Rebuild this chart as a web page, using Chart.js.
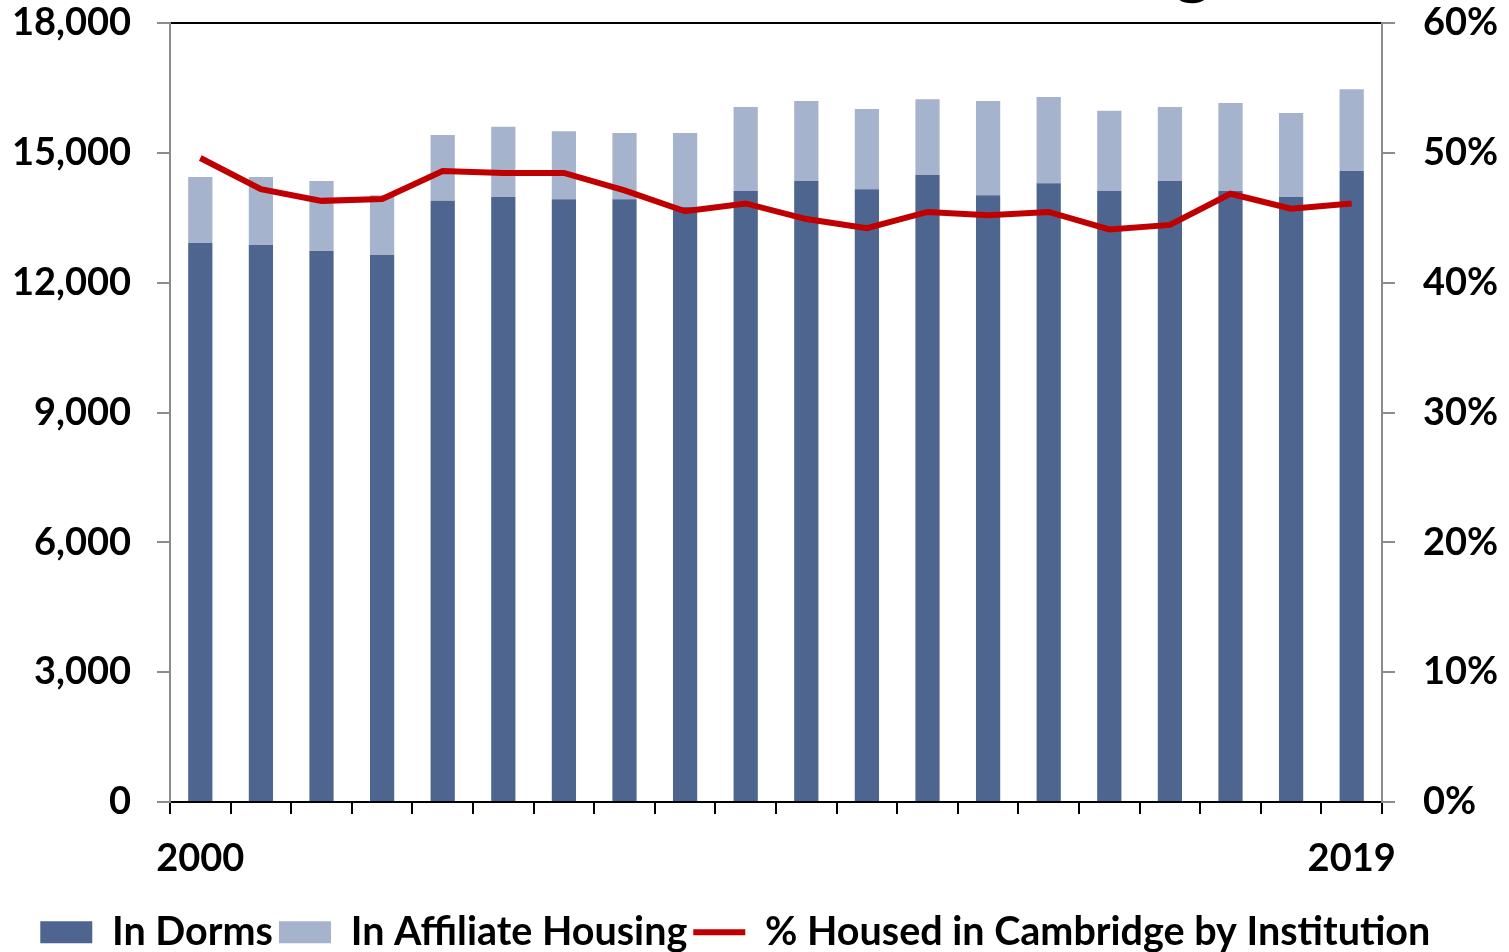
<!DOCTYPE html>
<html>
<head>
<meta charset="utf-8">
<script src="https://cdn.jsdelivr.net/npm/chart.js@4/dist/chart.umd.min.js"></script>
<style>
  html, body { margin: 0; padding: 0; background: #ffffff; }
  #wrap { width: 1509px; height: 952px; position: relative; }
</style>
</head>
<body>
<div id="wrap"><canvas id="c" width="1509" height="952"></canvas></div>
<script>
const years = ['2000','2001','2002','2003','2004','2005','2006','2007','2008','2009','2010','2011','2012','2013','2014','2015','2016','2017','2018','2019'];
const shownYearLabels = ['2000', '2019'];
const inDorms = [12915,12870,12730,12640,13890,13980,13930,13930,13750,14120,14350,14160,14490,14020,14300,14120,14350,14120,13980,14580];
const inAffiliate = [1525,1570,1620,1380,1520,1620,1570,1530,1710,1940,1850,1850,1750,2180,1990,1850,1710,2030,1940,1890];
const pctHoused = [49.6,47.2,46.3,46.45,48.6,48.45,48.45,47.1,45.5,46.1,44.9,44.2,45.45,45.2,45.45,44.1,44.45,46.85,45.7,46.1];
const leftTicks = [0,3000,6000,9000,12000,15000,18000];
const rightTicks = [0,10,20,30,40,50,60];
const legendOrder = ['In Dorms', 'In Affiliate Housing', '% Housed in Cambridge by Institution'];

const FONT = 'Lato';
const AXIS_GRAY = '#8c8c8c';
const PLOT_BOTTOM = 802;
const BOTTOM_SHIFT = 10;

const titleFragment = {
  id: 'titleFragment',
  afterDraw(chart) {
    const ctx = chart.ctx;
    ctx.save();
    ctx.fillStyle = '#000';
    ctx.font = 'bold 70px ' + FONT;
    ctx.textAlign = 'center';
    ctx.textBaseline = 'alphabetic';
    ctx.fillText('g', 1193, -10);
    ctx.restore();
  }
};

new Chart(document.getElementById('c'), {
  type: 'bar',
  data: {
    labels: years,
    datasets: [
      {
        type: 'line',
        label: legendOrder[2],
        data: pctHoused,
        yAxisID: 'y1',
        borderColor: '#C00000',
        backgroundColor: '#C00000',
        borderWidth: 6,
        pointRadius: 0,
        pointHoverRadius: 0,
        pointStyle: 'line',
        tension: 0,
        order: 0
      },
      {
        label: legendOrder[0],
        data: inDorms,
        backgroundColor: '#4E668F',
        borderWidth: 0,
        pointStyle: 'rect',
        stack: 's',
        yAxisID: 'y',
        barPercentage: 0.4,
        categoryPercentage: 1.0,
        order: 1
      },
      {
        label: legendOrder[1],
        data: inAffiliate,
        backgroundColor: '#A6B3CD',
        borderWidth: 0,
        pointStyle: 'rect',
        stack: 's',
        yAxisID: 'y',
        barPercentage: 0.4,
        categoryPercentage: 1.0,
        order: 2
      }
    ]
  },
  options: {
    responsive: false,
    animation: false,
    devicePixelRatio: 1,
    layout: { padding: { top: 23, left: 0, right: 0, bottom: -BOTTOM_SHIFT } },
    plugins: {
      tooltip: { enabled: false },
      title: { display: false },
      legend: {
        position: 'bottom',
        labels: {
          usePointStyle: true,
          pointStyleWidth: 52,
          boxHeight: 22,
          padding: 6,
          color: '#000',
          font: { family: FONT, size: 39.5, weight: 'bold' },
          sort: (a, b) => legendOrder.indexOf(a.text.trim()) - legendOrder.indexOf(b.text.trim()),
          generateLabels: (chart) => {
            const items = Chart.defaults.plugins.legend.labels.generateLabels(chart);
            items.forEach(it => {
              if (it.text === legendOrder[2]) it.text = it.text + '\u00A0\u00A0\u00A0\u00A0';
            });
            return items;
          }
        }
      }
    },
    scales: {
      x: {
        type: 'category',
        stacked: true,
        offset: true,
        border: { display: true, color: '#000', width: 2 },
        grid: { display: true, offset: true, drawOnChartArea: false, drawTicks: true, tickLength: 12, color: '#000', lineWidth: 2 },
        ticks: {
          autoSkip: false,
          maxRotation: 0,
          minRotation: 0,
          padding: 22,
          color: '#000',
          font: { family: FONT, size: 38, weight: 'bold' },
          callback: function(v, i) {
            const l = years[i];
            return shownYearLabels.includes(l) ? l : '';
          }
        },
        afterFit: (s) => {
          const lh = (s.chart.legend && s.chart.legend.height) ? s.chart.legend.height : 55;
          s.height = s.chart.height + BOTTOM_SHIFT - PLOT_BOTTOM - lh;
          s.paddingLeft = 0; s.paddingRight = 0;
        }
      },
      x2: {
        type: 'category',
        labels: years,
        position: 'top',
        offset: true,
        display: true,
        border: { display: true, color: '#000', width: 2 },
        grid: { display: false, drawTicks: false },
        ticks: { display: false },
        afterFit: (s) => { s.height = 0; s.paddingLeft = 0; s.paddingRight = 0; }
      },
      y: {
        type: 'linear',
        position: 'left',
        stacked: true,
        min: 0,
        max: 18000,
        border: { display: true, color: AXIS_GRAY, width: 2 },
        grid: { display: true, drawOnChartArea: false, drawTicks: true, tickLength: 13, color: AXIS_GRAY, lineWidth: 2 },
        afterBuildTicks: (s) => { s.ticks = leftTicks.map(v => ({ value: v })); },
        ticks: {
          padding: 26,
          color: '#000',
          font: { family: FONT, size: 38, weight: 'bold' },
          callback: (v) => v.toLocaleString('en-US')
        },
        afterFit: (s) => { s.width = 170; s.paddingTop = 0; s.paddingBottom = 0; }
      },
      y1: {
        type: 'linear',
        position: 'right',
        min: 0,
        max: 60,
        border: { display: true, color: AXIS_GRAY, width: 2 },
        grid: { display: true, drawOnChartArea: false, drawTicks: true, tickLength: 13, color: AXIS_GRAY, lineWidth: 2 },
        afterBuildTicks: (s) => { s.ticks = rightTicks.map(v => ({ value: v })); },
        ticks: {
          padding: 28,
          color: '#000',
          font: { family: FONT, size: 38, weight: 'bold' },
          callback: (v) => v + '%'
        },
        afterFit: (s) => { s.width = 127; s.paddingTop = 0; s.paddingBottom = 0; }
      }
    }
  },
  plugins: [titleFragment]
});
</script>
</body>
</html>
